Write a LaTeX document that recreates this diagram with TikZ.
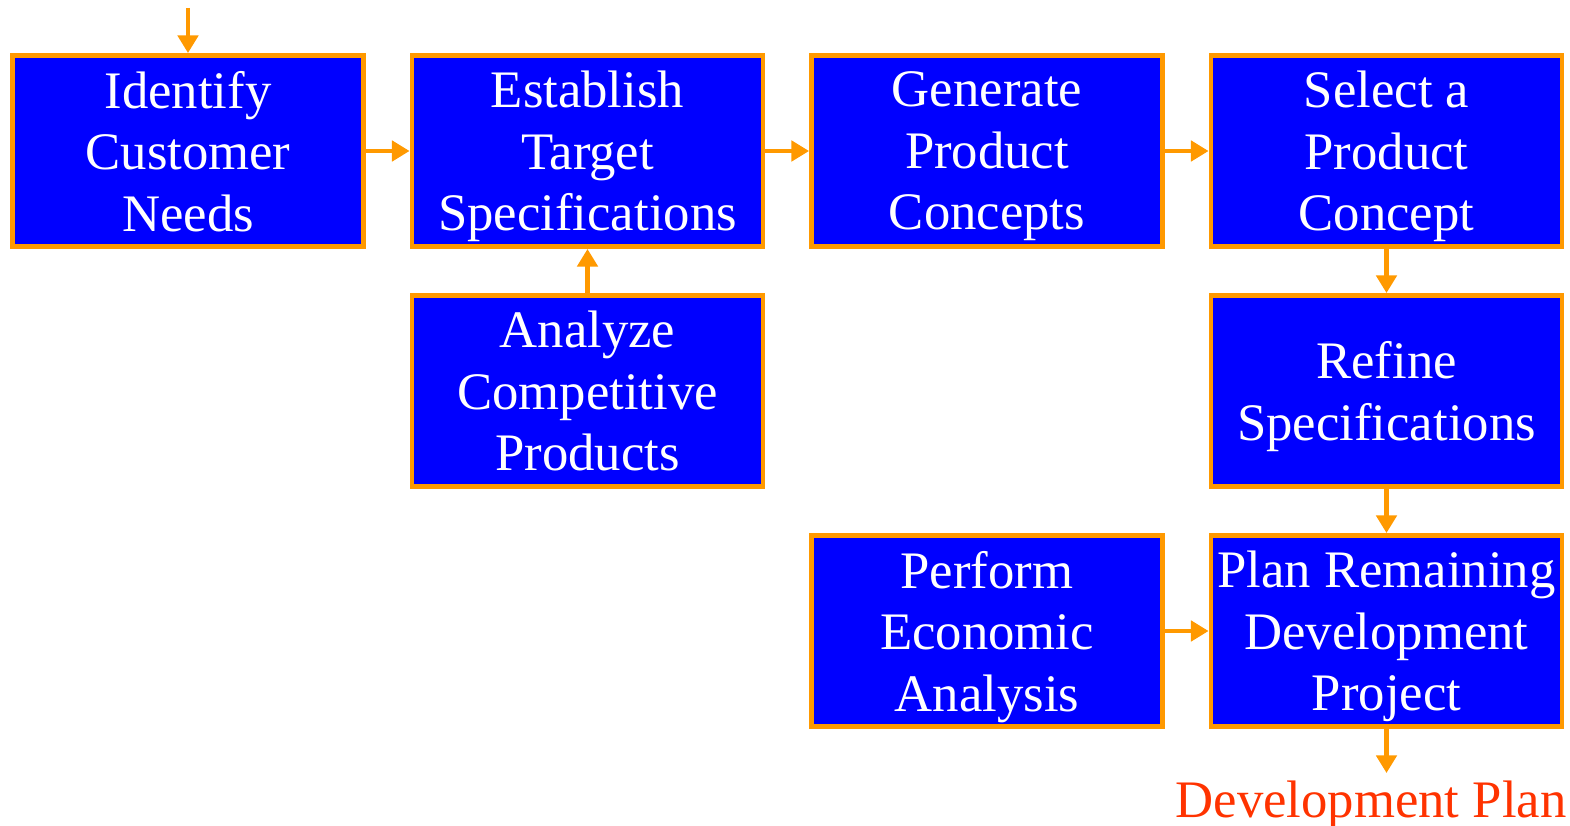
\documentclass[tikz,border=0pt]{standalone}
\usepackage{fontspec}
\setmainfont{Liberation Serif}
\usetikzlibrary{arrows.meta}
\definecolor{stepblue}{RGB}{0,0,255}
\definecolor{steporange}{RGB}{255,153,0}
\definecolor{planred}{RGB}{255,51,0}
\begin{document}
\begin{tikzpicture}[
        stepbox/.style={draw=steporange,fill=stepblue,line width=2.8pt,minimum width=7.02cm,minimum height=3.82cm,
            inner sep=0pt,align=center,text=white,text depth=0pt,font=\fontsize{30}{35}\selectfont},
        flow/.style={draw=steporange,line width=2.3pt,-{Triangle[width=11.5pt,length=10pt]}}
    ]
            \useasboundingbox (0,0) rectangle (31.4,-16.52);
            % first row
            \node[stepbox] (needs) at (3.76,-3.02) {Identify\\Customer\\Needs};
            \node[stepbox] (target) at (11.75,-3.02) {Establish\\Target\\Specifications};
            \node[stepbox] (generate) at (19.74,-3.02) {Generate\\Product\\Concepts};
            \node[stepbox] (select) at (27.73,-3.02) {Select a\\Product\\Concept};
            % second row
            \node[stepbox] (analyze) at (11.75,-7.82) {Analyze\\Competitive\\Products};
            \node[stepbox] (refine) at (27.73,-7.82) {Refine\\Specifications};
            % third row
            \node[stepbox] (economic) at (19.74,-12.62) {Perform\\Economic\\Analysis};
            \node[stepbox] (remaining) at (27.73,-12.62) {Plan Remaining\\Development\\Project};
            \node[text=planred,font=\fontsize{30}{35}\selectfont] (plan) at (27.42,-16.1) {Development Plan};
            \coordinate (start) at (needs.north |- 0,-0.16);
            \coordinate (finish) at (remaining.south |- 0,-15.46);
            \draw[flow] (start) -- (needs);
            \foreach \a/\b in {needs/target,target/generate,generate/select,economic/remaining}{
                    \draw[flow] (\a.east) -- (\b.west);
                }
            \draw[flow] (analyze) -- (target);
            \draw[flow] (select) -- (refine);
            \draw[flow] (refine) -- (remaining);
            \draw[flow] (remaining) -- (finish);
\end{tikzpicture}
\end{document}
